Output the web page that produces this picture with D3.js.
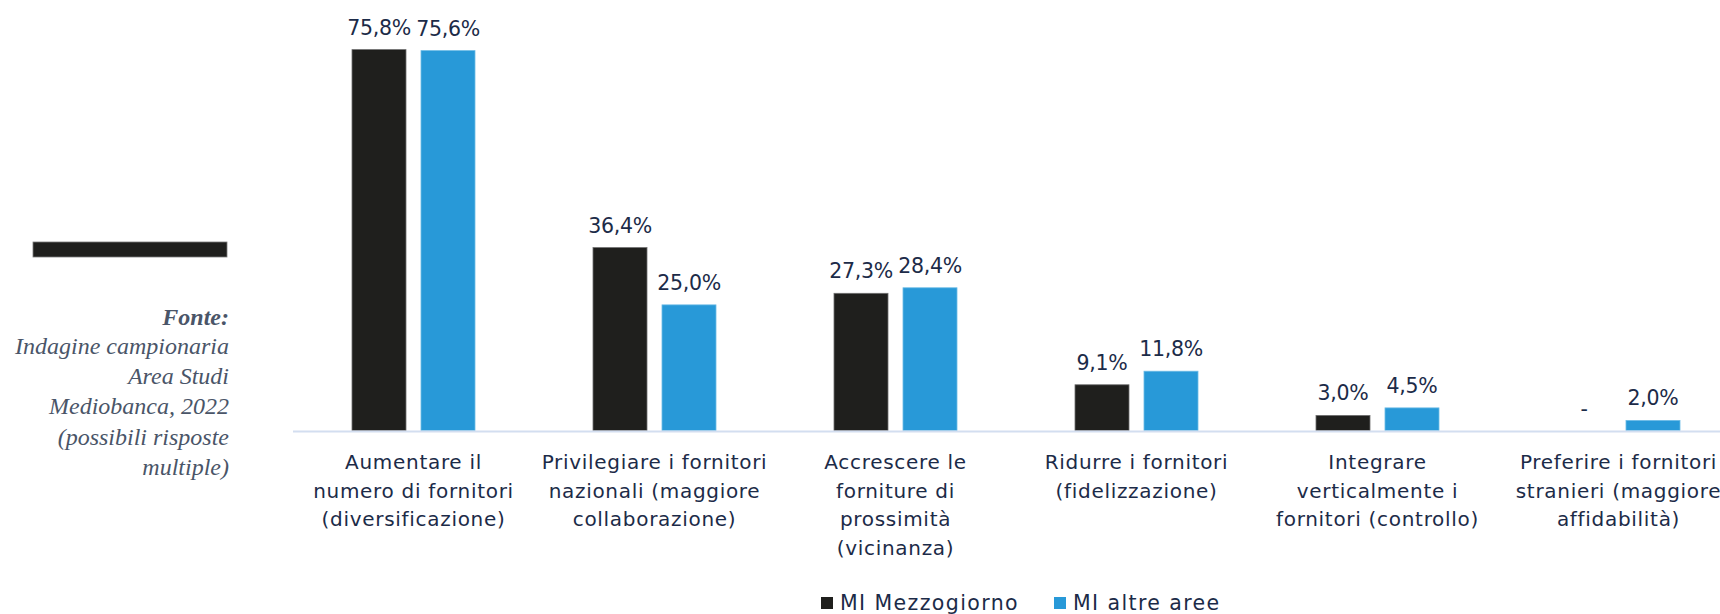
<!DOCTYPE html>
<html>
<head>
<meta charset="utf-8">
<script src="https://cdn.jsdelivr.net/npm/d3@7"></script>
<style>
  body { margin: 0; background: #fff; }
  svg { display: block; }
</style>
</head>
<body>
<div id="chart"></div>
<script>
// data
const categories = [
  ["Aumentare il", "numero di fornitori", "(diversificazione)"],
  ["Privilegiare i fornitori", "nazionali (maggiore", "collaborazione)"],
  ["Accrescere le", "forniture di", "prossimità", "(vicinanza)"],
  ["Ridurre i fornitori", "(fidelizzazione)"],
  ["Integrare", "verticalmente i", "fornitori (controllo)"],
  ["Preferire i fornitori", "stranieri (maggiore", "affidabilità)"]
];
const seriesNames = ["MI Mezzogiorno", "MI altre aree"];
const mezzogiorno = [75.8, 36.4, 27.3, 9.1, 3.0, 0];
const altreAree = [75.6, 25.0, 28.4, 11.8, 4.5, 2.0];
const sourceLines = ["Indagine campionaria", "Area Studi", "Mediobanca, 2022", "(possibili risposte", "multiple)"];

const W = 1720, H = 614;
const colors = ["#1f1f1d", "#2899d8"];
const strokes = ["#6e6e6e", "#6cbbe6"];
const textColor = "#1c2b48";
const font = "'DejaVu Sans', sans-serif";

const svg = d3.select("#chart").append("svg")
  .attr("width", W).attr("height", H);

// scales
const x0 = d3.scaleBand()
  .domain(d3.range(categories.length))
  .range([293, 1739])
  .paddingInner(0).paddingOuter(0);

const x1 = d3.scaleOrdinal()
  .domain([0, 1])
  .range([-61.5, 7.5]);

const barW = 54;

const y = d3.scaleLinear()
  .domain([0, 80])
  .range([430.5, 28.5]);

const rows = categories.map((c, i) => ({ i, vals: [mezzogiorno[i], altreAree[i]] }));

// bars
const groups = svg.append("g").selectAll("g")
  .data(rows).enter().append("g")
  .attr("transform", d => `translate(${x0(d.i) + x0.bandwidth() / 2},0)`);

groups.selectAll("rect")
  .data(d => d.vals.map((v, s) => ({ v, s })))
  .enter().append("rect")
  .filter(d => d.v > 0)
  .attr("x", d => x1(d.s))
  .attr("width", barW)
  .attr("y", d => y(d.v))
  .attr("height", d => y(0) - y(d.v))
  .attr("fill", d => colors[d.s])
  .attr("stroke", d => strokes[d.s])
  .attr("stroke-width", 0.8);

// value labels
const fmt = v => v === 0 ? "-" : v.toFixed(1).replace(".", ",") + "%";
groups.selectAll("text.val")
  .data(d => d.vals.map((v, s) => ({ v, s })))
  .enter().append("text")
  .attr("class", "val")
  .attr("x", d => x1(d.s) + barW / 2)
  .attr("y", d => y(d.v) - 15)
  .attr("text-anchor", "middle")
  .attr("font-family", font)
  .attr("font-size", 20.5)
  .attr("letter-spacing", -0.3)
  .attr("fill", textColor)
  .text(d => fmt(d.v));

// axis baseline
svg.append("line")
  .attr("x1", x0.range()[0]).attr("x2", W)
  .attr("y1", y(0) + 1).attr("y2", y(0) + 1)
  .attr("stroke", "#d3def0")
  .attr("stroke-width", 2);

// category labels
groups.append("text")
  .attr("text-anchor", "middle")
  .attr("font-family", font)
  .attr("font-size", 20)
  .attr("letter-spacing", 0.7)
  .attr("fill", textColor)
  .selectAll("tspan")
  .data(d => categories[d.i])
  .enter().append("tspan")
  .attr("x", 0)
  .attr("y", (d, k) => 469 + k * 28.5)
  .text(d => d);

// legend
const legend = svg.append("g")
  .attr("font-family", font)
  .attr("font-size", 20.5)
  .attr("letter-spacing", 1.4)
  .attr("fill", textColor);
const legX = [821, 1054];
seriesNames.forEach((name, s) => {
  legend.append("rect")
    .attr("x", legX[s]).attr("y", 597)
    .attr("width", 12).attr("height", 12)
    .attr("fill", colors[s]);
  legend.append("text")
    .attr("x", legX[s] + 19).attr("y", 610)
    .text(name);
});

// left side: dark bar and source note
svg.append("rect")
  .attr("x", 33).attr("y", 242)
  .attr("width", 194).attr("height", 15)
  .attr("fill", "#1f1f1d")
  .attr("stroke", "#7a7a7a").attr("stroke-width", 0.8);

const src = svg.append("text")
  .attr("text-anchor", "end")
  .attr("font-family", "'Liberation Serif', serif")
  .attr("font-style", "italic")
  .attr("font-size", 24)
  .attr("fill", "#4a5568");

src.append("tspan")
  .attr("x", 229).attr("y", 325)
  .attr("font-weight", "bold")
  .text("Fonte:");

src.selectAll("tspan.l")
  .data(sourceLines).enter().append("tspan")
  .attr("class", "l")
  .attr("x", 229)
  .attr("y", (d, k) => 354 + k * 30.2)
  .text(d => d);
</script>
</body>
</html>
